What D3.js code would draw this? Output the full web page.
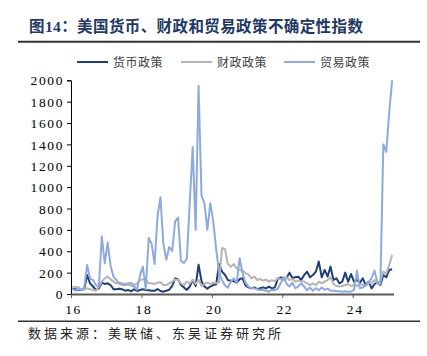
<!DOCTYPE html>
<html><head><meta charset="utf-8">
<script src="https://cdn.jsdelivr.net/npm/d3@7"></script>
<style>
html,body{margin:0;padding:0;background:#fff;}
svg{display:block;}
</style></head>
<body><svg id="c" width="427" height="356"></svg>
<script>
const title = "图14：美国货币、财政和贸易政策不确定性指数";
const source = "数据来源：美联储、东吴证券研究所";
const seriesNames = ["货币政策", "财政政策", "贸易政策"];
const seriesColors = ["#1f3f77", "#b4b4b4", "#8eaadc"];
// monthly, Jan 2016 .. Feb 2025
const monetary = [53,45,38,40,44,178,100,70,38,53,
  106,94,100,84,44,44,50,44,31,38,
  25,44,28,38,44,38,35,30,30,47,
  28,22,30,40,75,147,137,84,62,38,
  70,130,75,275,120,70,50,70,84,90,
  280,210,180,130,125,120,106,140,147,80,
  62,53,62,45,55,62,53,69,53,62,
  140,156,137,150,200,150,156,162,131,178,
  209,156,178,209,303,156,225,163,256,131,
  147,100,115,200,115,187,115,131,106,147,
  84,115,53,94,106,84,178,156,225,231];
const fiscal = [62,69,62,44,44,53,44,38,31,69,
  116,147,162,137,116,100,106,100,94,100,
  106,84,100,131,137,131,100,100,94,106,
  110,84,84,100,116,137,131,100,84,116,
  100,131,94,131,75,94,106,94,106,100,
  110,430,420,280,256,281,240,225,219,194,
  184,147,162,131,140,125,135,116,130,118,
  147,140,130,156,131,140,116,125,120,116,
  100,84,100,84,116,100,116,131,156,94,
  75,69,75,84,94,75,84,75,94,84,
  75,100,106,131,100,120,210,190,270,366];
const trade = [50,30,45,40,60,272,147,131,84,69,
  540,287,481,265,162,131,95,85,85,90,
  80,70,40,170,256,45,525,470,280,730,
  905,470,320,440,400,680,715,310,290,330,
  860,1375,600,1950,920,850,600,850,680,420,
  190,130,80,60,115,147,106,334,194,106,
  70,53,53,44,38,38,31,22,40,35,
  50,100,160,94,70,106,53,70,100,70,
  35,60,30,55,35,60,40,50,30,30,
  25,25,22,25,20,22,40,219,53,62,
  84,110,150,219,100,90,1400,1330,1700,2000];
const months = d3.timeMonth.range(new Date(2016,0,1), new Date(2025,2,1));
const yTicks = [0,200,400,600,800,1000,1200,1400,1600,1800,2000];
const xTickLabels = ["16","18","20","22","24"];
const xTickDates = [new Date(2016,0,1), new Date(2018,0,1), new Date(2020,0,1), new Date(2022,0,1), new Date(2024,0,1)];

const svg = d3.select("#c");
const L = 71, R = 393.6, T = 80.3, B = 294;
const x = d3.scaleBand().domain(months.map(d=>+d)).range([L, R]).padding(0);
const xc = d => x(+d) + x.bandwidth()/2;
const y = d3.scaleLinear().domain([0, 2000]).range([B, T]);

// title
svg.append("text").attr("x", 29).attr("y", 32)
  .attr("font-family", "'Liberation Serif','Noto Sans CJK SC',serif")
  .attr("font-weight", "bold").attr("font-size", 15.5).attr("letter-spacing", 0.4)
  .attr("fill", "#1f3864").text(title);
svg.append("line").attr("x1", 18).attr("x2", 420).attr("y1", 41.8).attr("y2", 41.8)
  .attr("stroke", "#333").attr("stroke-width", 2);

// legend
const legX = [77, 181, 284];
seriesNames.forEach((n, k) => {
  svg.append("line").attr("x1", legX[k]).attr("x2", legX[k] + 31).attr("y1", 62).attr("y2", 62)
    .attr("stroke", seriesColors[k]).attr("stroke-width", 2);
  svg.append("text").attr("x", legX[k] + 36).attr("y", 66.5)
    .attr("font-family", "'Noto Sans CJK SC',sans-serif").attr("font-size", 12)
    .attr("letter-spacing", 0.5).attr("fill", "#404040").text(n);
});

// y axis
const yAxis = d3.axisLeft(y).tickValues(yTicks).tickFormat(d3.format("d")).tickSize(4).tickPadding(3);
const gy = svg.append("g").attr("transform", `translate(${L},0)`).call(yAxis);
gy.select(".domain").attr("stroke", "#000").attr("stroke-width", 1);
gy.selectAll(".tick line").attr("stroke", "#000");
gy.selectAll("text").attr("font-family", "'Liberation Serif',serif").attr("font-size", 13.5)
  .attr("letter-spacing", 1.6).attr("fill", "#000").attr("dy", "0.34em");

// x axis
const xs = d3.scaleTime().domain([months[0], new Date(2025,2,1)]).range([L, R]);
const xAxis = d3.axisBottom(xs).tickValues(xTickDates).tickFormat((d,i)=>xTickLabels[i]).tickSize(4).tickPadding(6).tickSizeOuter(0);
const gx = svg.append("g").attr("transform", `translate(0,${B})`).call(xAxis);
gx.select(".domain").attr("stroke", "#595959").attr("stroke-width", 2);
gx.selectAll(".tick line").attr("stroke", "#595959");
gx.selectAll("text").attr("font-family", "'Liberation Serif',serif").attr("font-size", 13.5)
  .attr("letter-spacing", 1.6).attr("fill", "#000").attr("dx", 2);

// lines
const allSeries = [monetary, fiscal, trade];
allSeries.forEach((s, k) => {
  const line = d3.line().x((d,i)=>xc(months[i])).y(d=>y(d));
  svg.append("path").datum(s).attr("d", line).attr("fill", "none")
    .attr("stroke", seriesColors[k]).attr("stroke-width", 2).attr("stroke-linejoin", "round");
});

// bottom rule and source
svg.append("line").attr("x1", 18).attr("x2", 420).attr("y1", 321.3).attr("y2", 321.3)
  .attr("stroke", "#333").attr("stroke-width", 1.5);
svg.append("text").attr("x", 28).attr("y", 337.5)
  .attr("font-family", "'Noto Sans CJK SC',sans-serif").attr("font-size", 13)
  .attr("letter-spacing", 3).attr("fill", "#222").text(source);
</script></body></html>
